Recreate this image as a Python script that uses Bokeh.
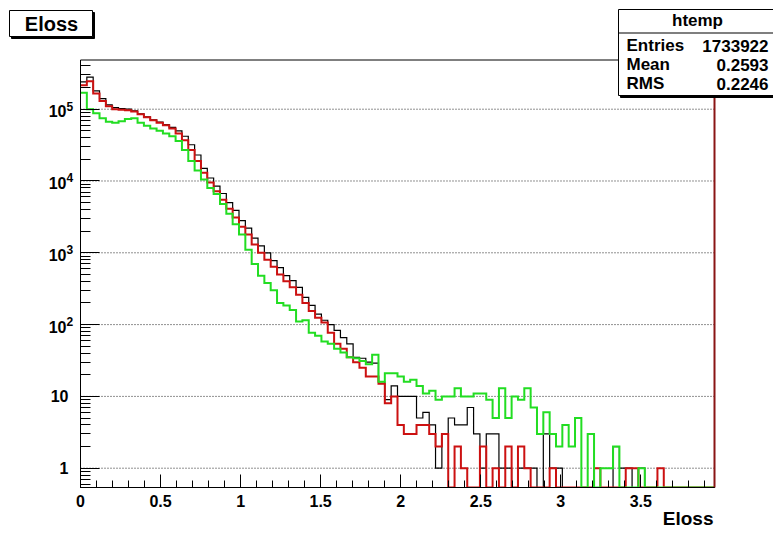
from bokeh.plotting import figure
from bokeh.models import Range1d, FixedTicker, Label, BoxAnnotation, LinearScale
from bokeh.embed import file_html
from bokeh.resources import INLINE
import math

# ---------------- data ----------------
x_min, x_max, n_bins = 0.0, 3.96, 100
y_lo, y_hi = 0.5384, 4.844e5

black = [240000, 280000, 180000, 140000, 115000, 105000, 102000, 100000, 95000, 86000,
         78000, 71000, 66000, 61000, 56000, 50000, 42000, 32000, 23000, 15000,
         11000, 8500, 6700, 5000, 3900, 2800, 2200, 1600, 1250, 1000,
         780, 620, 480, 410, 330, 240, 185, 140, 115, 100,
         83, 66, 54, 35, 34, 30, 29, 16, 9, 14,
         10, 10, 10, 5, 6, 4, 1, 3, 5, 4,
         4, 7, 3, 1, 3, 3, 1, 1, 0, 1,
         1, 1, 0, 3, 1, 1, 0, 0, 0, 0,
         0, 0, 0, 0, 2, 1, 1, 0, 1, 0,
         0, 0, 0, 0, 0, 0, 0, 0, 0, 0]

red = [215000, 245000, 165000, 130000, 110000, 100000, 98000, 97000, 93000, 85000,
       77000, 70000, 65000, 60000, 54000, 46000, 37000, 27000, 19000, 13000,
       9500, 7200, 5500, 4100, 3100, 2300, 1800, 1300, 1000, 800,
       640, 500, 400, 330, 260, 200, 155, 125, 107, 77,
       54, 46, 35, 30, 25, 19, 19, 15, 8, 10,
       4, 3, 3, 4, 4, 3, 2, 3, 0, 2,
       1, 0, 0, 2, 0, 1, 0, 2, 0, 2,
       1, 0, 0, 0, 1, 0, 0, 0, 0, 0,
       0, 1, 0, 0, 0, 0, 1, 1, 0, 0,
       0, 1, 0, 0, 0, 0, 0, 0, 0, 0]

green = [170000, 100000, 88000, 75000, 67000, 65000, 68000, 73000, 75000, 65000,
         59000, 54000, 50000, 46000, 42000, 36000, 27000, 19000, 14000, 10500,
         8000, 6600, 4800, 3500, 2500, 1800, 1100, 700, 480, 380,
         300, 200, 185, 160, 110, 115, 77, 70, 58, 54,
         46, 41, 35, 34, 31, 28, 38, 16, 21, 21,
         19, 16, 17, 14, 11, 12, 9, 10, 10, 13,
         10, 10, 11, 11, 9, 5, 13, 5, 10, 9,
         13, 7, 3, 6, 3, 2, 4, 2, 5, 0,
         3, 0, 1, 1, 2, 0, 0, 0, 1, 0,
         0, 0, 0, 0, 0, 0, 0, 0, 0, 0]

x_ticks = [0, 0.5, 1, 1.5, 2, 2.5, 3, 3.5]
x_tick_labels = ["0", "0.5", "1", "1.5", "2", "2.5", "3", "3.5"]
y_ticks = [1, 10, 100, 1000, 10000, 100000]
y_tick_bases = ["1", "10", "10", "10", "10", "10"]
y_tick_exps = ["", "", "2", "3", "4", "5"]

title_text = "Eloss"
x_title = "Eloss"
stats_name = "htemp"
stats_keys = ["Entries", "Mean", "RMS"]
stats_vals = ["1733922", "0.2593", "0.2246"]

# ---------------- layout constants (pixels) ----------------
W, H = 773, 535
FL, FR = 80.0, 714.0          # frame left / right pixel
FB, FT = 487.0, 59.5          # frame bottom / top pixel
FONT = "Liberation Sans"

sx = (FR - FL) / (x_max - x_min)
x_start = x_min - FL / sx
x_end = x_max + (W - FR) / sx
dec = (FB - FT) / (math.log10(y_hi) - math.log10(y_lo))
y_start = 10 ** (math.log10(y_lo) - (H - FB) / dec)
y_end = 10 ** (math.log10(y_hi) + FT / dec)

p = figure(width=W, height=H, x_range=Range1d(x_start, x_end),
           y_range=Range1d(y_start, y_end), y_axis_type="log",
           output_backend="svg", toolbar_location=None, title=None,
           min_border=0, min_border_left=0, min_border_right=0,
           min_border_top=0, min_border_bottom=0)
p.background_fill_color = "white"
p.border_fill_color = "white"
p.outline_line_color = None
p.xgrid.visible = False
p.ygrid.visible = False

# pixel coordinate system for annotations
p.extra_x_ranges = {"px": Range1d(0, W)}
p.extra_y_ranges = {"py": Range1d(H, 0)}
p.extra_x_scales = {"px": LinearScale()}
p.extra_y_scales = {"py": LinearScale()}

# ---------------- axes ----------------
x_minor = [round(0.1 * i, 2) for i in range(41) if x_min <= 0.1 * i <= x_max]
xt = FixedTicker(ticks=x_ticks, minor_ticks=x_minor)
p.xaxis.ticker = xt
p.xaxis.major_label_overrides = {t: l for t, l in zip(x_ticks, x_tick_labels)}
p.xaxis.fixed_location = y_lo
p.xaxis.bounds = (x_min, x_max)

y_minor = [k * 10 ** d for d in range(-1, 6) for k in range(2, 10)
           if y_lo <= k * 10 ** d <= y_hi]
yt = FixedTicker(ticks=y_ticks, minor_ticks=y_minor)
p.yaxis.ticker = yt
p.yaxis.major_label_overrides = {t: "" for t in y_ticks}
p.yaxis.fixed_location = x_min
p.yaxis.bounds = (y_lo, y_hi)

for ax in (p.xaxis, p.yaxis):
    ax.level = "overlay"
    ax.axis_line_color = "black"
    ax.axis_line_width = 1
    ax.major_tick_line_color = "black"
    ax.minor_tick_line_color = "black"
    ax.major_tick_out = 0
    ax.minor_tick_out = 0
    ax.major_label_text_font = FONT
    ax.major_label_text_font_style = "bold"
    ax.major_label_text_font_size = "16px"
    ax.major_label_text_color = "black"

p.xaxis.major_tick_in = 13
p.xaxis.minor_tick_in = 7
p.xaxis.major_label_standoff = 7
p.yaxis.major_tick_in = 19
p.yaxis.minor_tick_in = 10

# dotted horizontal grid at the decades
p.segment(x0=[x_min] * len(y_ticks), x1=[x_max] * len(y_ticks), y0=y_ticks, y1=y_ticks,
          line_color="#222222", line_dash="1 2", line_width=1)

# ---------------- histograms ----------------
edges = [x_min + i * (x_max - x_min) / n_bins for i in range(n_bins + 1)]


def outline(vals):
    xs, ys = [], []
    for i, v in enumerate(vals):
        yv = v if v > 0 else y_lo
        xs += [edges[i], edges[i + 1]]
        ys += [yv, yv]
    return xs, ys


for vals, col, w in ((black, "black", 1.2), (red, "#cc1111", 2), (green, "#22dd22", 2)):
    xs, ys = outline(vals)
    p.line(xs, ys, line_color=col, line_width=w, line_join="miter")

# mask everything below the frame (histogram lines resting on the zero level)
p.add_layout(BoxAnnotation(left=0, right=W, top=FB + 0.5, bottom=H + 5,
                           x_range_name="px", y_range_name="py",
                           fill_color="white", fill_alpha=1, line_alpha=0))

# frame
p.add_layout(BoxAnnotation(left=x_min, right=x_max, bottom=y_lo, top=y_hi,
                           fill_alpha=0, line_color="black", line_alpha=1, line_width=1))
p.add_layout(BoxAnnotation(left=x_max, right=x_max, bottom=y_lo, top=y_hi,
                           fill_alpha=0, line_color="#8a1515", line_alpha=1, line_width=2))

# y tick labels (ROOT style 10^n)
for t, b, e in zip(y_ticks, y_tick_bases, y_tick_exps):
    if e:
        p.add_layout(Label(x=66, y=t, x_range_name="px", text=b, y_offset=-2,
                           text_font=FONT, text_font_style="bold", text_font_size="16px",
                           text_align="right", text_baseline="middle", text_color="black"))
        p.add_layout(Label(x=66, y=t, x_range_name="px", text=e, y_offset=3,
                           text_font=FONT, text_font_style="bold", text_font_size="12px",
                           text_align="left", text_baseline="middle", text_color="black"))
    else:
        p.add_layout(Label(x=68, y=t, x_range_name="px", text=b,
                           text_font=FONT, text_font_style="bold", text_font_size="16px",
                           text_align="right", text_baseline="middle", text_color="black"))


# ---------------- boxes ----------------
def box(l, t, r, b):
    p.add_layout(BoxAnnotation(left=l + 2, right=r + 2, top=t + 2, bottom=b + 2,
                               x_range_name="px", y_range_name="py",
                               fill_color="black", fill_alpha=1, line_color="black",
                               line_alpha=1, line_width=1))
    p.add_layout(BoxAnnotation(left=l, right=r, top=t, bottom=b,
                               x_range_name="px", y_range_name="py",
                               fill_color="white", fill_alpha=1, line_color="black",
                               line_alpha=1, line_width=1))


def text(x, y, s, align="left", size="17px", baseline="middle"):
    p.add_layout(Label(x=x, y=y, x_range_name="px", y_range_name="py", text=s,
                       text_font=FONT, text_font_style="bold", text_font_size=size,
                       text_align=align, text_baseline=baseline, text_color="black"))


# title box
box(9, 10, 92, 36)
text(51, 23, title_text, align="center", size="20px")

# stats box (runs off the right edge, as in the reference)
box(618, 9, 790, 95)
p.add_layout(BoxAnnotation(left=618, right=790, top=32, bottom=33,
                           x_range_name="px", y_range_name="py",
                           fill_color="black", fill_alpha=1, line_alpha=0))
text(697, 20, stats_name, align="center")
for yy, k, v in zip([45, 64, 83], stats_keys, stats_vals):
    text(626, yy, k)
    text(768, yy, v, align="right")

# x axis title
text(713, 518, x_title, align="right", size="19px", baseline="middle")

open("out.html", "w").write(file_html(p, INLINE))
